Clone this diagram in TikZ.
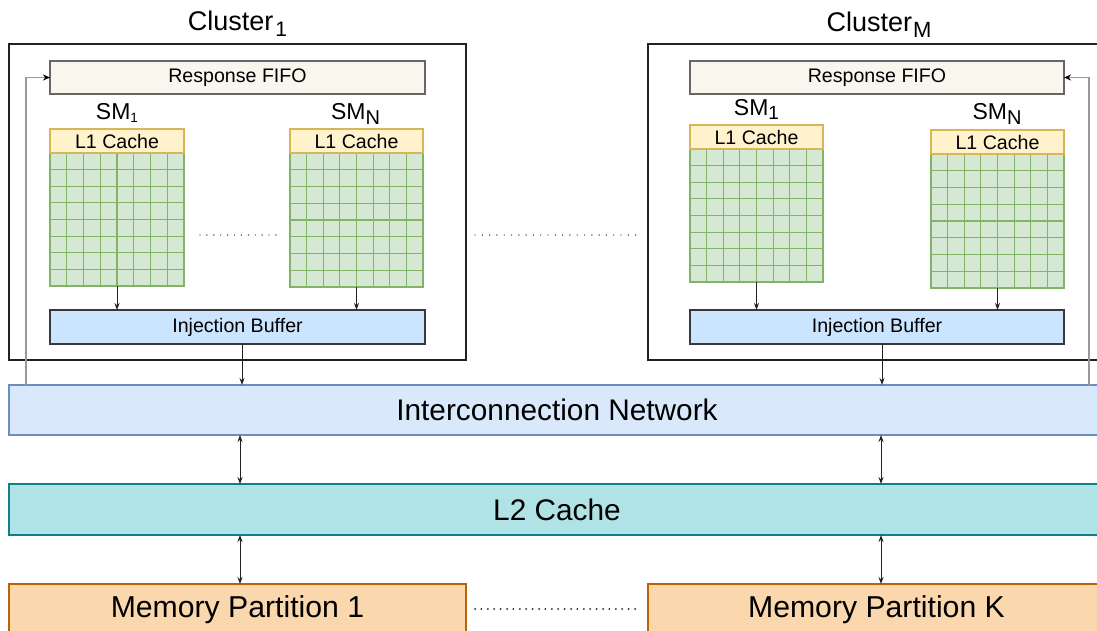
\documentclass[tikz,border=0pt]{standalone}
\usepackage{fontspec}
\setmainfont{Liberation Sans}
\usetikzlibrary{arrows.meta,calc}
\definecolor{fifofill}{HTML}{F9F7ED}
\definecolor{fifodraw}{HTML}{666666}
\definecolor{lonefill}{HTML}{FFF2CC}
\definecolor{lonedraw}{HTML}{D6B656}
\definecolor{gridfill}{HTML}{D5E8D4}
\definecolor{griddraw}{HTML}{82B366}
\definecolor{injfill}{HTML}{CCE5FF}
\definecolor{injdraw}{HTML}{36393D}
\definecolor{icfill}{HTML}{DAE8FC}
\definecolor{icdraw}{HTML}{6C8EBF}
\definecolor{ltwofill}{HTML}{B0E3E6}
\definecolor{ltwodraw}{HTML}{0E8088}
\definecolor{memfill}{HTML}{FAD7AC}
\definecolor{memdraw}{HTML}{B46504}
\definecolor{linegray}{HTML}{999999}
\definecolor{dark}{HTML}{222222}
\newcommand{\fsz}[1]{\fontsize{#1}{#1}\selectfont}
\newcommand{\lowsub}[3]{\raisebox{-#1pt}{\fsz{#2}#3}}
\newcommand{\smblock}[6]{%
  \node[lonebox, minimum width={#3-#2}, minimum height={#5-#4}, anchor=north west] (#1l) at (#2,#4) {L1 Cache};
  \node[gridbox, minimum width={#3-#2}, minimum height={#6-#5}, anchor=north west] (#1) at (#2,#5) {};
  \foreach \i in {1,...,7} {
    \draw[gridline] ({#2+\i*(#3-#2)/8},#5) -- ({#2+\i*(#3-#2)/8},#6);
    \draw[gridline] (#2,{#5+\i*(#6-#5)/8}) -- (#3,{#5+\i*(#6-#5)/8});
  }
  \draw[lonedraw, line width=1.2] (#1l.north west) rectangle (#1l.south east);
}
\tikzset{
  box/.style={rectangle, outer sep=0pt, inner sep=0pt, line width=1.2},
  clusterbox/.style={box, draw=dark, line width=1.3},
  fifobox/.style={box, fill=fifofill, draw=fifodraw, font=\fsz{19.6}},
  lonebox/.style={box, fill=lonefill, draw=lonedraw, font=\fsz{19.6}},
  gridbox/.style={box, fill=gridfill, draw=griddraw},
  gridline/.style={draw=griddraw, line width=1.2},
  injbox/.style={box, fill=injfill, draw=injdraw, font=\fsz{19.6}},
  icbox/.style={box, fill=icfill, draw=icdraw, font=\fsz{29.8}},
  ltwobox/.style={box, fill=ltwofill, draw=ltwodraw, font=\fsz{29.8}},
  membox/.style={box, fill=memfill, draw=memdraw, font=\fsz{30.2}},
  titlelbl/.style={anchor=base, inner sep=0pt, font=\fsz{27}},
  smlbl/.style={anchor=base, inner sep=0pt, font=\fsz{23}},
  arr/.style={draw=dark, line width=1, -{Stealth[length=7pt,width=5pt]}},
  darr/.style={draw=dark, line width=1, {Stealth[length=7pt,width=5pt]}-{Stealth[length=7pt,width=5pt]}},
  fbarr/.style={draw=linegray, line width=1.8, -{Stealth[length=7pt,width=6pt,color=black]}},
  dotrow/.style={draw=dark, line cap=round, line width=1.4},
}
\begin{document}
\begin{tikzpicture}[x=1pt,y=-1pt]
\useasboundingbox (0,0) rectangle (1097,631);
\clip (0,0) rectangle (1097,631);
\fill[white] (0,0) rectangle (1097,631);

% clusters
\node[clusterbox, minimum width=457, minimum height=316] (cl1) at (237.5,202) {};
\node[clusterbox, minimum width=457, minimum height=316] (clm) at (876.5,202) {};
\node[titlelbl] (t1) at (237.5,30.5) {Cluster\kern2pt\lowsub{6}{21}{1}};
\node[titlelbl] (tm) at (879,31.5) {Cluster\kern1pt\lowsub{6}{22}{M}};

% response fifos
\node[fifobox, minimum width=375, minimum height=33] (rf1) at (237.5,77.5) {Response FIFO};
\node[fifobox, minimum width=374, minimum height=33] (rfm) at (877,77.5) {Response FIFO};

% SM labels
\node[smlbl] (sa1) at (117,119.3) {SM\lowsub{3}{13.5}{1}};
\node[smlbl] (san) at (355.5,119.3) {SM\lowsub{5}{20}{N}};
\node[smlbl] (sb1) at (756.5,116) {SM\lowsub{4}{19}{1}};
\node[smlbl] (sbn) at (997,119.3) {SM\lowsub{5}{20}{N}};

% SM blocks
\smblock{ga1}{50}{184}{129}{153}{286}
\smblock{gan}{290}{423}{129}{153}{287}
\smblock{gb1}{690}{823}{125}{149}{282}
\smblock{gbn}{931}{1064}{130}{154}{288}

% injection buffers
\node[injbox, minimum width=375, minimum height=34] (ib1) at (237.5,327) {Injection Buffer};
\node[injbox, minimum width=374, minimum height=34] (ibm) at (877,327) {Injection Buffer};

% big layers
\node[icbox, minimum width=1096, minimum height=50] (ic) at (557,410) {Interconnection Network};
\node[ltwobox, minimum width=1096, minimum height=51] (l2) at (557,509.5) {L2 Cache};
\node[membox, minimum width=457, minimum height=52] (mp1) at (237.5,610) {Memory Partition 1};
\node[membox, minimum width=457, minimum height=52] (mpk) at (876.5,610) {Memory Partition K};

% SM to injection buffer
\draw[arr] (ga1.south) -- (ga1.south |- ib1.north);
\draw[arr] (gan.south) -- (gan.south |- ib1.north);
\draw[arr] (gb1.south) -- (gb1.south |- ibm.north);
\draw[arr] (gbn.south) -- (gbn.south |- ibm.north);

% injection buffer to interconnect
\draw[arr] ([xshift=4.5]ib1.south) -- ([xshift=4.5]ib1.south |- ic.north);
\draw[arr] ([xshift=5]ibm.south) -- ([xshift=5]ibm.south |- ic.north);

% vertical double arrows
\coordinate (ca) at (240,0);
\coordinate (cb) at (881,0);
\draw[darr] (ca |- ic.south) -- (ca |- l2.north);
\draw[darr] (cb |- ic.south) -- (cb |- l2.north);
\draw[darr] (ca |- l2.south) -- (ca |- mp1.north);
\draw[darr] (cb |- l2.south) -- (cb |- mpk.north);

% feedback to response FIFOs
\coordinate (fa) at (26,0);
\coordinate (fb) at (1089,0);
\draw[fbarr] (fa |- ic.north) -- (fa |- rf1.west) -- (rf1.west);
\draw[fbarr] (fb |- ic.north) -- (fb |- rfm.east) -- (rfm.east);

% dots
\draw[dotrow, dash pattern=on 0pt off 6.9pt] (200,235) -- (277,235);
\draw[dotrow, dash pattern=on 0pt off 7.3pt] (475,235) -- (636,235);
\draw[dotrow, line width=2, dash pattern=on 0pt off 6.4pt] (475,609) -- (636,609);
\end{tikzpicture}
\end{document}
